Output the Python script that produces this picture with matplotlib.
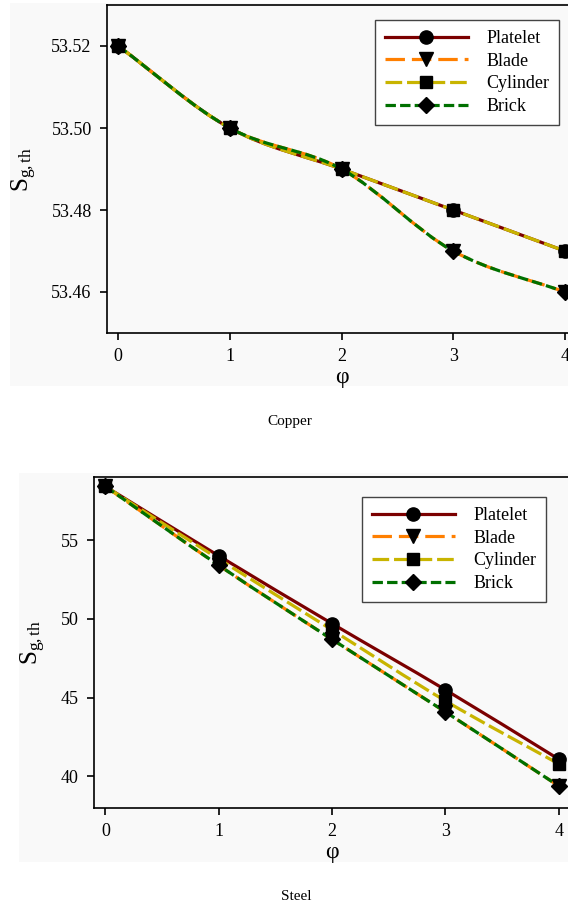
import numpy as np
import matplotlib
matplotlib.use('Agg')
import matplotlib.pyplot as plt
from matplotlib.path import Path
from matplotlib.patches import PathPatch, Rectangle
from matplotlib.lines import Line2D

plt.rcParams['font.family'] = ['Liberation Serif', 'DejaVu Serif']
plt.rcParams['mathtext.fontset'] = 'custom'
plt.rcParams['mathtext.rm'] = 'Liberation Serif'
plt.rcParams['mathtext.it'] = 'Liberation Serif'
plt.rcParams['lines.scale_dashes'] = False

# data
phi = [0, 1, 2, 3, 4]
series_names = ['Platelet', 'Blade', 'Cylinder', 'Brick']

copper_platelet = [53.52, 53.50, 53.49, 53.48, 53.47]
copper_blade = [53.52, 53.50, 53.49, 53.47, 53.46]
copper_cylinder = [53.52, 53.50, 53.49, 53.48, 53.47]
copper_brick = [53.52, 53.50, 53.49, 53.47, 53.46]

steel_platelet = [58.4, 54.0, 49.7, 45.5, 41.1]
steel_blade = [58.4, 53.4, 48.7, 44.1, 39.4]
steel_cylinder = [58.4, 53.8, 49.3, 44.8, 40.8]
steel_brick = [58.4, 53.4, 48.7, 44.1, 39.4]

copper_yticks = [53.46, 53.48, 53.50, 53.52]
steel_yticks = [40, 45, 50, 55]

# styles
colors = ['#7b0000', '#ff7f00', '#c8b400', '#007000']
dashes = ['-', (0, (14, 5)), (0, (12, 3.5)), (0, (7.5, 3))]
markers = ['o', 'v', 's', 'D']
msizes = [9.5, 9.5, 9, 8]
LW = 2.3
BG = '#f9f9f9'


def smooth_path(x, y):
    """Catmull-Rom curve through the points, as cubic bezier segments"""
    pts = np.column_stack([x, y]).astype(float)
    n = len(pts)
    tang = np.zeros_like(pts)
    tang[0] = pts[1] - pts[0]
    tang[-1] = pts[-1] - pts[-2]
    for i in range(1, n - 1):
        tang[i] = (pts[i + 1] - pts[i - 1]) / 2
    verts = [pts[0]]
    codes = [Path.MOVETO]
    for i in range(n - 1):
        verts += [pts[i] + tang[i] / 3, pts[i + 1] - tang[i + 1] / 3, pts[i + 1]]
        codes += [Path.CURVE4] * 3
    return Path(verts, codes)


def draw_panel(ax, data, yticks, ylim, leg_anchor):
    ax.set_facecolor(BG)
    for ys, c, ls in zip(data, colors, dashes):
        ax.add_patch(PathPatch(smooth_path(phi, ys), facecolor='none', edgecolor=c,
                               lw=LW, linestyle=ls, capstyle='butt', zorder=2))
    for ys, m, ms in zip(data, markers, msizes):
        ax.plot(phi, ys, ls='none', marker=m, ms=ms, color='black', zorder=3)

    ax.set_xlim(-0.1, 4.1)
    ax.set_ylim(*ylim)
    ax.set_xticks(phi)
    ax.set_yticks(yticks)
    ax.tick_params(direction='out', length=5, width=1.2, labelsize=13, pad=6)
    for s in ax.spines.values():
        s.set_linewidth(1.2)
    ax.set_xlabel('φ', fontsize=17, labelpad=1)
    ax.set_ylabel(r'S$_{\mathrm{g,th}}$', fontsize=18, labelpad=9)

    handles = [Line2D([0], [0], color=c, lw=LW, linestyle=ls, marker=m, ms=ms,
                      markerfacecolor='black', markeredgecolor='black')
               for c, ls, m, ms in zip(colors, dashes, markers, msizes)]
    leg = ax.legend(handles, series_names, loc='upper left', bbox_to_anchor=leg_anchor,
                    bbox_transform=fig.transFigure, fontsize=13, frameon=True,
                    fancybox=False, edgecolor='#444444', framealpha=1, facecolor='white',
                    handlelength=4.6, handletextpad=1.0, labelspacing=0.32,
                    borderpad=0.55, borderaxespad=0)
    leg.get_frame().set_linewidth(1.0)


fig = plt.figure(figsize=(5.68, 9.10), dpi=100)
fig.patch.set_facecolor('white')

W, H = 568, 910
# gray panel backgrounds
fig.patches.append(Rectangle((10 / W, 1 - 386 / H), 560 / W, 383 / H,
                             transform=fig.transFigure, facecolor=BG, edgecolor='none', zorder=-5))
fig.patches.append(Rectangle((19 / W, 1 - 862 / H), 551 / W, 389 / H,
                             transform=fig.transFigure, facecolor=BG, edgecolor='none', zorder=-5))

ax1 = fig.add_axes([107 / W, 1 - 333 / H, 469 / W, 328 / H])
draw_panel(ax1, [copper_platelet, copper_blade, copper_cylinder, copper_brick],
           copper_yticks, (53.45, 53.53), (375 / W, 1 - 20 / H))
ax1.set_yticklabels(['%.2f' % v for v in copper_yticks])

ax2 = fig.add_axes([94 / W, 1 - 808 / H, 476 / W, 331 / H])
draw_panel(ax2, [steel_platelet, steel_blade, steel_cylinder, steel_brick],
           steel_yticks, (38, 59), (362 / W, 1 - 497 / H))

fig.text(290 / W, 1 - 421 / H, 'Copper', ha='center', va='center', fontsize=11)
fig.text(296 / W, 1 - 896 / H, 'Steel', ha='center', va='center', fontsize=11)

fig.savefig('out.png', dpi=100, facecolor='white')
